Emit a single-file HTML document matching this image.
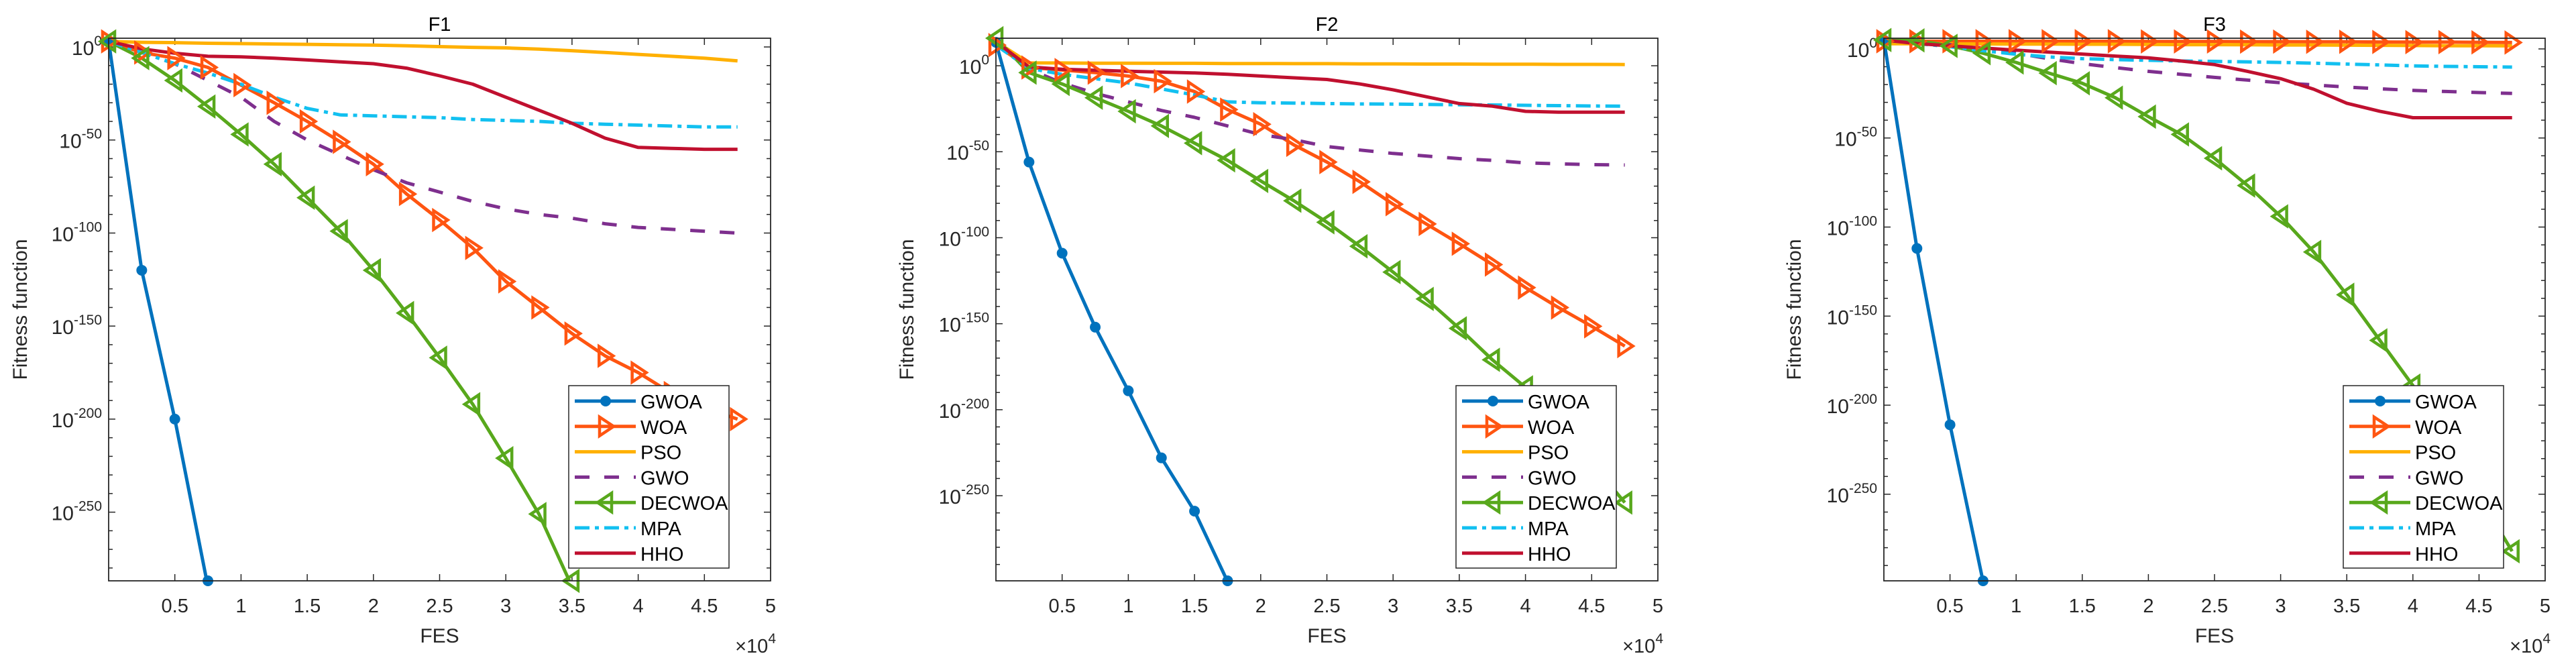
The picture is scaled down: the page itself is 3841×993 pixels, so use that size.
<!DOCTYPE html>
<html><head><meta charset="utf-8">
<style>
html,body{margin:0;padding:0;background:#fff;}
svg{display:block;font-family:"Liberation Sans",Arial,sans-serif;}
</style></head>
<body>
<svg id="fig" width="3841" height="993" viewBox="0 0 3841 993" xmlns="http://www.w3.org/2000/svg"></svg>
<script>
// x values in units of 1e4 FES
const fesTicks = [0.5,1,1.5,2,2.5,3,3.5,4,4.5,5];
const fesX = [0,0.25,0.5,0.75,1,1.25,1.5,1.75,2,2.25,2.5,2.75,3,3.25,3.5,3.75,4,4.25,4.5,4.75];
const yTickExps = [0,-50,-100,-150,-200,-250];
const seriesNames = ["GWOA","WOA","PSO","GWO","DECWOA","MPA","HHO"];
// log10 fitness values (null = not plotted)
const f1_GWOA = [3,-120,-200,-290,null,null,null,null,null,null,null,null,null,null,null,null,null,null,null,null];
const f1_WOA = [3,-3,-6,-11,-20.5,-30,-40,-51,-63,-79,-93,-108,-126,-140,-154,-166,-175,-186,-194,-200];
const f1_PSO = [3,2.5,2.3,2,1.8,1.6,1.4,1.2,1,0.6,0.2,-0.2,-0.5,-1.2,-2,-3,-4,-5,-6,-7.5];
const f1_GWO = [3,-3,-9,-18,-27,-40,-50,-58,-66,-73,-78,-83,-87,-90,-92,-95,-97,-98,-99,-100];
const f1_DECWOA = [3,-6,-18,-32,-47,-63,-81,-99,-120,-143,-167,-192,-221,-251,-290,null,null,null,null,null];
const f1_MPA = [3,-3,-9,-14,-20,-27,-33,-36.5,-37,-37.5,-38,-39,-39.5,-40,-41,-41.5,-42,-42.5,-43,-43];
const f1_HHO = [3,-1,-3.4,-5,-5.3,-6,-7,-8,-9,-11.4,-15.5,-20,-27,-34,-41,-49,-54,-54.5,-55,-55];

const f2_GWOA = [13.6,-56,-109,-152,-189,-228,-259,-300,null,null,null,null,null,null,null,null,null,null,null,null];
const f2_WOA = [12,-1,-2.5,-4,-6,-9,-15,-25.5,-34,-46,-56,-67.5,-80.5,-92,-103.5,-115.6,-129,-140.6,-151.5,-163];
const f2_PSO = [14,1.7,1.6,1.5,1.5,1.4,1.4,1.3,1.3,1.2,1.2,1.1,1.1,1,1,0.9,0.9,0.8,0.8,0.7];
const f2_GWO = [14,-2,-10,-16,-21,-26,-30,-35,-40,-43,-47,-49,-51,-52.5,-54,-55,-56.5,-57,-57.5,-57.7];
const f2_DECWOA = [16,-4,-10.6,-18.6,-26.5,-35,-45,-55,-67,-78.5,-91,-105,-120,-135.6,-152.7,-171,-187,-209,-231,-254];
const f2_MPA = [12,-1.5,-5,-7.5,-10,-13.5,-17,-21,-21.5,-21.7,-22,-22.2,-22.3,-22.5,-22.7,-22.8,-23,-23.2,-23.4,-23.5];
const f2_HHO = [14,-0.7,-2,-2.6,-3.2,-3.7,-4.2,-5,-6,-7,-8,-10.6,-14,-18,-22,-23.5,-26.5,-27,-27,-27];

const f3_GWOA = [5,-112,-211,-299,null,null,null,null,null,null,null,null,null,null,null,null,null,null,null,null];
const f3_WOA = [4.3,4.3,4.3,4.3,4.3,4.3,4.3,4.3,4.2,4.2,4.2,4.1,4.1,4,4,3.9,3.8,3.8,3.7,3.6];
const f3_PSO = [2.9,2.9,2.8,2.8,2.7,2.7,2.6,2.6,2.5,2.4,2.4,2.3,2.2,2.2,2.1,2,1.9,1.8,1.8,1.7];
const f3_GWO = [5,4,2.4,0,-2.4,-5.5,-8.3,-10.5,-12.6,-14.3,-16,-17.5,-19,-20.2,-21.4,-22.4,-23.3,-23.9,-24.5,-25];
const f3_DECWOA = [5,4.8,1.7,-2.4,-7.6,-13.6,-19.3,-27.4,-38,-48,-61.4,-76.7,-94,-114,-138,-163.6,-189,-220,-251,-282];
const f3_MPA = [5,3,1.2,-1,-3,-4.5,-5.5,-6,-6.4,-6.8,-7,-7.3,-7.6,-8,-8.5,-9,-9.5,-9.8,-10,-10.2];
const f3_HHO = [5,3,1.7,0.5,-0.7,-1.8,-2.9,-4,-5,-6.8,-8.8,-12.6,-16.7,-22.6,-30.5,-35,-38.6,-38.6,-38.6,-38.6];

const NS="http://www.w3.org/2000/svg";
const svg=document.getElementById('fig');
function mk(tag,attrs,parent){const e=document.createElementNS(NS,tag);for(const k in attrs)e.setAttribute(k,attrs[k]);(parent||svg).appendChild(e);return e;}

const colors={GWOA:"#0072BD",WOA:"#FF5511",PSO:"#FFB000",GWO:"#7E2F8E",DECWOA:"#58A81C",MPA:"#12C0F0",HHO:"#C0102F"};
const dashes={GWOA:"",WOA:"",PSO:"",GWO:"22 22",DECWOA:"",MPA:"22 8 6 8",HHO:""};
const plots=[
 {title:"F1",left:162,right:1149,ymax:4.69,ymin:-286.9,ylabX:40,data:{GWOA:f1_GWOA,WOA:f1_WOA,PSO:f1_PSO,GWO:f1_GWO,DECWOA:f1_DECWOA,MPA:f1_MPA,HHO:f1_HHO}},
 {title:"F2",left:1485,right:2472,ymax:16,ymin:-299.5,ylabX:1362,data:{GWOA:f2_GWOA,WOA:f2_WOA,PSO:f2_PSO,GWO:f2_GWO,DECWOA:f2_DECWOA,MPA:f2_MPA,HHO:f2_HHO}},
 {title:"F3",left:2809,right:3795,ymax:6,ymin:-298.6,ylabX:2685,data:{GWOA:f3_GWOA,WOA:f3_WOA,PSO:f3_PSO,GWO:f3_GWO,DECWOA:f3_DECWOA,MPA:f3_MPA,HHO:f3_HHO}}
];
const TOP=57,BOT=866,TXT="#262626";

function marker(name,x,y,g){
  const c=colors[name];let m=null;
  if(name==="GWOA"){m=mk('circle',{cx:x,cy:y,r:7,fill:c,stroke:c,'stroke-width':2},g);}
  else if(name==="WOA"){m=mk('polygon',{points:`${x+12},${y} ${x-9},${y-14} ${x-9},${y+14}`,fill:'none',stroke:c,'stroke-width':4.5},g);}
  else if(name==="DECWOA"){m=mk('polygon',{points:`${x-12},${y} ${x+9},${y-14} ${x+9},${y+14}`,fill:'none',stroke:c,'stroke-width':4.5},g);}
  if(m){}
}

plots.forEach((p,pi)=>{
  const g=mk('g',{});
  
  
  const xs=v=>p.left+(v/5)*(p.right-p.left);
  const ys=e=>TOP+(p.ymax-e)/(p.ymax-p.ymin)*(BOT-TOP);
  const cid='clip'+pi;
  const defs=mk('defs',{},g);
  const cp=mk('clipPath',{id:cid},defs);
  mk('rect',{x:p.left,y:TOP,width:p.right-p.left,height:BOT-TOP},cp);
  fesTicks.forEach(t=>{
    const x=xs(t);
    if(t<5){mk('line',{x1:x,y1:BOT,x2:x,y2:BOT-10,stroke:TXT,'stroke-width':1.5},g);mk('line',{x1:x,y1:TOP,x2:x,y2:TOP+10,stroke:TXT,'stroke-width':1.5},g);}
    const tl=mk('text',{x:x,y:913,'font-size':29,'text-anchor':'middle',fill:TXT},g);
    tl.textContent=String(t);
    
    
  });
  for(let e=0;e>=p.ymin;e-=10){
    const y=ys(e);const len=(e%50===0)?10:6;
    mk('line',{x1:p.left,y1:y,x2:p.left+len,y2:y,stroke:TXT,'stroke-width':1.5},g);
    mk('line',{x1:p.right,y1:y,x2:p.right-len,y2:y,stroke:TXT,'stroke-width':1.5},g);
  }
  yTickExps.forEach(e=>{
    const y=ys(e);
    const t=mk('text',{x:p.left-10,y:y+12,'font-size':30,'text-anchor':'end',fill:TXT},g);
    
    
    const a=mk('tspan',{},t);a.textContent='10';
    const b=mk('tspan',{dy:-14,'font-size':21},t);b.textContent=String(e);
  });
  const lg=mk('g',{'clip-path':`url(#${cid})`},g);
  seriesNames.forEach(n=>{
    const vals=p.data[n];let pts=[];
    vals.forEach((v,i)=>{if(v!==null)pts.push([xs(fesX[i]),ys(v)]);});
    const pl=mk('polyline',{points:pts.map(q=>q[0].toFixed(1)+','+q[1].toFixed(1)).join(' '),fill:'none',stroke:colors[n],'stroke-width':5,'stroke-linejoin':'round','stroke-dasharray':dashes[n]},lg);
    
    
  });
  ["GWOA","WOA","DECWOA"].forEach(n=>{
    p.data[n].forEach((v,i)=>{if(v!==null&&v>=p.ymin-15)marker(n,xs(fesX[i]),Math.min(ys(v),BOT),g);});
  });
  const box=mk('rect',{x:p.left,y:TOP,width:p.right-p.left,height:BOT-TOP,fill:'none',stroke:TXT,'stroke-width':1.8},g);
  
  
  const tt=mk('text',{x:(p.left+p.right)/2,y:46,'font-size':29,'text-anchor':'middle',fill:'#000'},g);
  tt.textContent=p.title;
  
  
  const xl=mk('text',{x:(p.left+p.right)/2,y:958,'font-size':30,'text-anchor':'middle',fill:TXT},g);
  xl.textContent='FES';
  
  
  const ex=mk('text',{x:p.right+8,y:973,'font-size':29,'text-anchor':'end',fill:TXT},g);
  
  
  const e1=mk('tspan',{},ex);e1.textContent='\u00d710';
  const e2=mk('tspan',{dy:-14,'font-size':21},ex);e2.textContent='4';
  const yl=mk('text',{x:p.ylabX,y:(TOP+BOT)/2,'font-size':30,'text-anchor':'middle',fill:TXT,transform:`rotate(-90 ${p.ylabX} ${(TOP+BOT)/2})`},g);
  yl.textContent='Fitness function';
  
  
  const bx=p.right-62-239,by=575;
  const leg=mk('g',{},g);
  
  
  mk('rect',{x:bx,y:by,width:239,height:272,fill:'#fff',stroke:TXT,'stroke-width':1.5},leg);
  seriesNames.forEach((n,i)=>{
    const y=by+23+i*37.8;
    const en=mk('g',{},leg);
    
    
    mk('line',{x1:bx+9,y1:y,x2:bx+100,y2:y,stroke:colors[n],'stroke-width':5,'stroke-dasharray':dashes[n]},en);
    if(n==="GWOA"||n==="WOA"||n==="DECWOA")marker(n,bx+55,y,en);
    const t=mk('text',{x:bx+107,y:y+11,'font-size':29,fill:'#000'},en);
    t.textContent=n;
  });
});
</script>
</body></html>
